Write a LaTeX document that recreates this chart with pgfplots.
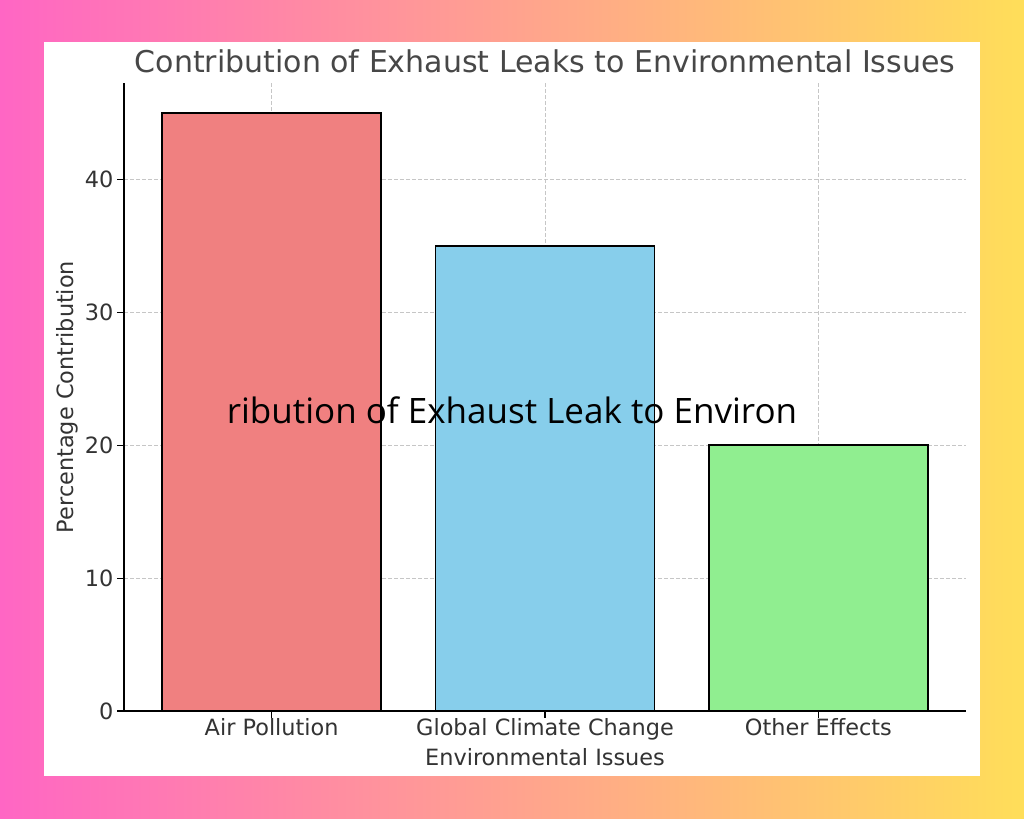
\documentclass[border=0pt]{standalone}
\usepackage{fontspec}
\setmainfont{DejaVu Sans}
\newfontfamily\overlayfont{Open Sans}
\usepackage{pgfplots}
\pgfplotsset{compat=1.18}
\definecolor{bgpink}{HTML}{FF66C4}
\definecolor{bgyellow}{HTML}{FFDE59}
\definecolor{barred}{HTML}{F08080}
\definecolor{barblue}{HTML}{87CEEB}
\definecolor{bargreen}{HTML}{90EE90}
\definecolor{txt}{HTML}{333333}
\begin{document}
\begin{tikzpicture}[x=1bp,y=1bp]
% canvas background and white card
\shade[left color=bgpink, right color=bgyellow] (0,0) rectangle (1024,819);
\fill[white] (44,43) rectangle (980,777);
\begin{axis}[
  at={(124bp,108bp)}, anchor=south west,
  scale only axis, width=842bp, height=628bp,
  xmin=-0.54, xmax=2.54, ymin=0, ymax=47.25,
  axis x line*=bottom, axis y line*=left,
  axis line style={black, line width=1.3bp, -},
  xtick={0,1,2},
  xticklabels={Air Pollution, Global Climate Change, Other Effects},
  ytick={0,10,20,30,40},
  tick align=outside, major tick length=7bp,
  tick style={black, line width=1.1bp},
  grid=major, grid style={dash pattern=on 4bp off 2bp, gray!45, line width=0.8bp},
  ticklabel style={font=\fontsize{22.4bp}{26bp}\selectfont, text=txt},
  xticklabel style={yshift=3bp},
  label style={font=\fontsize{22.4bp}{26bp}\selectfont, text=txt},
  xlabel style={yshift=-1bp},
  title style={font=\fontsize{30bp}{36bp}\selectfont, text=txt!90,
    at={(0.5,1)}, anchor=base, yshift=5bp, inner sep=0pt},
  title={Contribution of Exhaust Leaks to Environmental Issues},
  xlabel={Environmental Issues},
  ylabel={Percentage Contribution},
  /pgf/number format/assume math mode=true,
  ybar, bar width=0.8, bar shift=0pt,
  clip=false,
]
\addplot[fill=barred, draw=black, line width=1.6bp] coordinates {(0,45)};
\addplot[fill=barblue, draw=black, line width=1.6bp] coordinates {(1,35)};
\addplot[fill=bargreen, draw=black, line width=1.6bp] coordinates {(2,20)};
\end{axis}
\node[font=\overlayfont\fontsize{35bp}{42bp}\selectfont, text=black] at (512,409) {ribution of Exhaust Leak to Environ};
\end{tikzpicture}
\end{document}
